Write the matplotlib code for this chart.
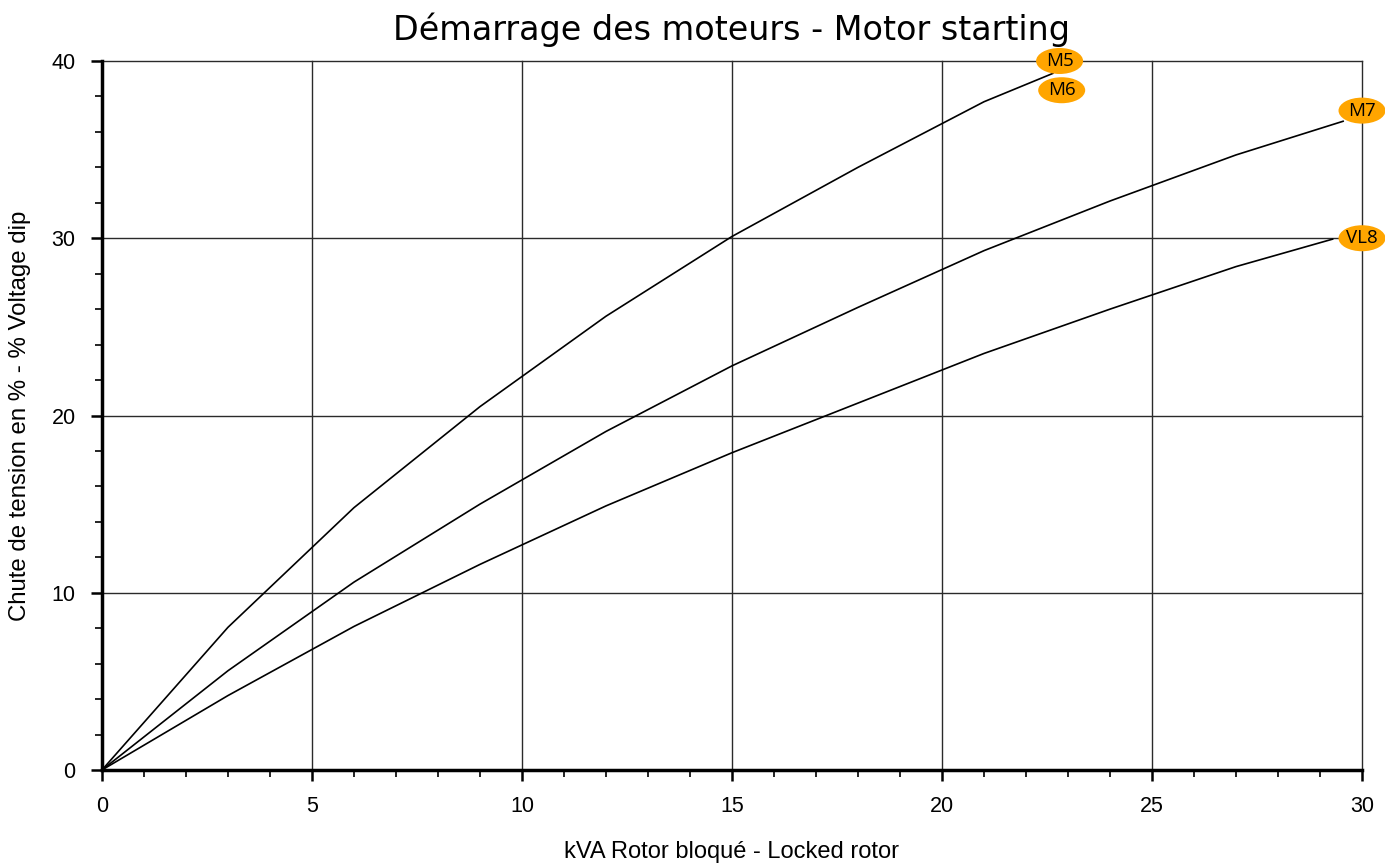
import matplotlib
matplotlib.use("Agg")
import matplotlib.pyplot as plt
from matplotlib.patches import Ellipse
from matplotlib.ticker import MultipleLocator

# Data
m5_x = [0, 3, 6, 9, 12, 15, 18, 21, 22.64]
m5_y = [0, 8.05, 14.8, 20.5, 25.6, 30.1, 34.0, 37.7, 39.3]
m7_x = [0, 3, 6, 9, 12, 15, 18, 21, 24, 27, 29.55]
m7_y = [0, 5.6, 10.6, 15.0, 19.1, 22.8, 26.1, 29.3, 32.1, 34.7, 36.6]
vl8_x = [0, 3, 6, 9, 12, 15, 18, 21, 24, 27, 29.3]
vl8_y = [0, 4.2, 8.1, 11.6, 14.9, 17.9, 20.7, 23.5, 26.0, 28.4, 29.95]
labels = ["M5", "M6", "M7", "VL8"]
label_x = [22.8, 22.85, 30.0, 30.0]
label_y = [40.0, 38.35, 37.2, 30.0]
x_ticks = [0, 5, 10, 15, 20, 25, 30]
y_ticks = [0, 10, 20, 30, 40]

fig = plt.figure(figsize=(13.85, 8.65), dpi=100)
ax = fig.add_axes([0.0736, 0.1098, 0.9098, 0.8197])
ax.set_xlim(0, 30)
ax.set_ylim(0, 40)

for xs, ys in [(m5_x, m5_y), (m7_x, m7_y), (vl8_x, vl8_y)]:
    ax.plot(xs, ys, color="black", lw=1.2, zorder=3, clip_on=False)

ax.set_xticks(x_ticks)
ax.set_yticks(y_ticks)
ax.xaxis.set_minor_locator(MultipleLocator(1))
ax.yaxis.set_minor_locator(MultipleLocator(2))
ax.grid(True, which="major", color="#2a2a2a", lw=1.0, zorder=1)
ax.set_axisbelow(True)
for gl in ax.get_xgridlines() + ax.get_ygridlines():
    gl.set_clip_on(False)

for s in ["top", "right"]:
    ax.spines[s].set_visible(False)
ax.spines["left"].set_linewidth(2.5)
ax.spines["bottom"].set_linewidth(2.5)

ax.tick_params(which="major", direction="out", length=8, width=1.8,
               labelsize=15.5, pad=11)
ax.tick_params(which="minor", direction="out", length=5, width=1.2)
for lab in ax.get_xticklabels() + ax.get_yticklabels():
    lab.set_family("Liberation Sans")

ax.set_xlabel("kVA Rotor bloqué - Locked rotor", fontsize=17,
              family="Liberation Sans", labelpad=17)
ax.set_ylabel("Chute de tension en % - % Voltage dip", fontsize=17.3,
              family="Liberation Sans", labelpad=15)
ax.set_title("Démarrage des moteurs - Motor starting", fontsize=24,
             family="DejaVu Sans", pad=15)

# Labels as orange ellipses
w_units = 47 / 42.0
h_units = 26 / 17.725
for t, lx, ly in zip(labels, label_x, label_y):
    e = Ellipse((lx, ly), w_units, h_units, facecolor="#FFA500",
                edgecolor="none", zorder=5, clip_on=False)
    ax.add_patch(e)
    ax.text(lx, ly, t, ha="center", va="center", fontsize=13.5,
            family="Open Sans", zorder=6, clip_on=False)

fig.savefig("out.png", dpi=100)
